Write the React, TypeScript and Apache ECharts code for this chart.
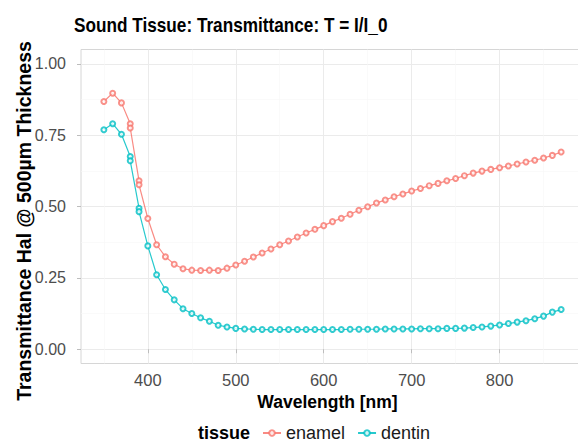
import React, { useEffect, useRef } from "react";
import * as echarts from "echarts";

const wavelengths = [
  350, 360, 370, 380, 380, 390, 390, 400, 410, 420, 430, 440, 450, 460, 470, 480, 490, 500,
  510, 520, 530, 540, 550, 560, 570, 580, 590, 600, 610, 620, 630, 640, 650, 660, 670, 680,
  690, 700, 710, 720, 730, 740, 750, 760, 770, 780, 790, 800, 810, 820, 830, 840, 850, 860, 870,
];
const enamel = [
  0.868, 0.897, 0.863, 0.79, 0.775, 0.59, 0.576, 0.458, 0.366, 0.324, 0.298, 0.282, 0.277, 0.276,
  0.277, 0.276, 0.284, 0.295, 0.308, 0.323, 0.337, 0.351, 0.366, 0.379, 0.393, 0.407, 0.42, 0.433,
  0.447, 0.459, 0.473, 0.487, 0.499, 0.512, 0.523, 0.534, 0.544, 0.554, 0.563, 0.573, 0.581, 0.59,
  0.598, 0.608, 0.617, 0.624, 0.63, 0.636, 0.642, 0.649, 0.656, 0.662, 0.67, 0.679, 0.691,
];
const dentin = [
  0.769, 0.79, 0.753, 0.675, 0.66, 0.494, 0.482, 0.362, 0.261, 0.209, 0.173, 0.142, 0.125, 0.11,
  0.098, 0.084, 0.078, 0.073, 0.071, 0.07, 0.069, 0.069, 0.069, 0.069, 0.069, 0.069, 0.069, 0.069,
  0.069, 0.069, 0.07, 0.07, 0.07, 0.07, 0.071, 0.071, 0.071, 0.071, 0.072, 0.072, 0.072, 0.073,
  0.073, 0.074, 0.076, 0.078, 0.081, 0.085, 0.09, 0.095, 0.1, 0.107, 0.116, 0.13, 0.139,
];
const xTicks = [400, 500, 600, 700, 800];
const xMinor = [350, 450, 550, 650, 750, 850];
const yTicks = [0, 0.25, 0.5, 0.75, 1.0];
const yMinor = [0.125, 0.375, 0.625, 0.875];

const FONT = "'Liberation Sans', Arial, Helvetica, sans-serif";
const RED = "#F8766D";
const TEAL = "#00BFC4";

export default function App() {
  const ref = useRef<HTMLDivElement>(null);
  useEffect(() => {
    if (!ref.current) return;
    const chart = echarts.init(ref.current, undefined, { renderer: "svg" });
    const pairs = (vals: number[]) => wavelengths.map((w, i) => [w, vals[i]]);
    const xBase = { type: "value", min: 324, max: 896, gridIndex: 0 };
    const yBase = { type: "value", min: -0.05, max: 1.05, gridIndex: 0 };
    const mkSeries = (name: string, vals: number[], col: string) => ({
      name,
      type: "line",
      xAxisIndex: 0,
      yAxisIndex: 0,
      data: pairs(vals),
      symbol: "emptyCircle",
      symbolSize: 5,
      showSymbol: true,
      showAllSymbol: true,
      color: col,
      lineStyle: { width: 1.2, color: col, opacity: 0.85 },
      itemStyle: { color: col, borderColor: col, borderWidth: 1.1, opacity: 0.8 },
    });
    chart.setOption({
      animation: false,
      backgroundColor: "#ffffff",
      textStyle: { fontFamily: FONT },
      grid: {
        left: 81,
        top: 49.5,
        right: 16,
        bottom: 79.5,
        show: true,
        borderColor: "#d6d6d6",
        borderWidth: 1,
        backgroundColor: "transparent",
      },
      xAxis: [
        {
          ...xBase,
          axisLine: { show: false },
          axisTick: { show: true, length: 4, lineStyle: { color: "#bdbdbd" }, customValues: xTicks },
          axisLabel: {
            customValues: xTicks,
            color: "#4d4d4d",
            fontSize: 16.5,
            fontFamily: FONT,
            margin: 8,
          },
          splitLine: { show: true, lineStyle: { color: "#ebebeb", width: 1 } },
        },
        {
          ...xBase,
          axisLine: { show: false },
          axisTick: { show: false, customValues: xMinor },
          axisLabel: { show: false, customValues: xMinor },
          splitLine: { show: true, lineStyle: { color: "#f6f6f6", width: 0.6 } },
        },
      ],
      yAxis: [
        {
          ...yBase,
          axisLine: { show: false },
          axisTick: { show: true, length: 4, lineStyle: { color: "#bdbdbd" }, customValues: yTicks },
          axisLabel: {
            customValues: yTicks,
            color: "#4d4d4d",
            fontSize: 16,
            fontFamily: FONT,
            margin: 15,
            formatter: (v: number) => v.toFixed(2),
          },
          splitLine: { show: true, lineStyle: { color: "#ebebeb", width: 1 } },
        },
        {
          ...yBase,
          axisLine: { show: false },
          axisTick: { show: false, customValues: yMinor },
          axisLabel: { show: false, customValues: yMinor },
          splitLine: { show: true, lineStyle: { color: "#f6f6f6", width: 0.6 } },
        },
      ],
      legend: {
        left: 262,
        top: 424,
        padding: 0,
        itemWidth: 18,
        itemHeight: 7,
        itemGap: 12,
        textStyle: { fontSize: 18, color: "#1a1a1a", fontFamily: FONT, lineHeight: 18 },
        data: ["enamel", "dentin"],
      },
      graphic: [
        {
          type: "text",
          x: 74,
          y: 25,
          scaleX: 0.86,
          style: {
            text: "Sound Tissue: Transmittance: T = I/I_0",
            font: `bold 20px ${FONT}`,
            fill: "#000000",
            textAlign: "left",
            textVerticalAlign: "middle",
          },
        },
        {
          type: "text",
          x: 24,
          y: 221,
          rotation: Math.PI / 2,
          style: {
            text: "Transmittance Hal @ 500µm Thickness",
            font: `bold 19.5px ${FONT}`,
            fill: "#000000",
            textAlign: "center",
            textVerticalAlign: "middle",
          },
        },
        {
          type: "text",
          x: 327.5,
          y: 402,
          style: {
            text: "Wavelength [nm]",
            font: `bold 17.5px ${FONT}`,
            fill: "#000000",
            textAlign: "center",
            textVerticalAlign: "middle",
          },
        },
        {
          type: "text",
          x: 198,
          y: 433,
          style: {
            text: "tissue",
            font: `bold 18px ${FONT}`,
            fill: "#000000",
            textAlign: "left",
            textVerticalAlign: "middle",
          },
        },
      ],
      series: [mkSeries("enamel", enamel, RED), mkSeries("dentin", dentin, TEAL)],
    });
    return () => chart.dispose();
  }, []);
  return (
    <div
      ref={ref}
      style={{ position: "fixed", left: 0, top: 0, width: 600, height: 443 }}
    />
  );
}
